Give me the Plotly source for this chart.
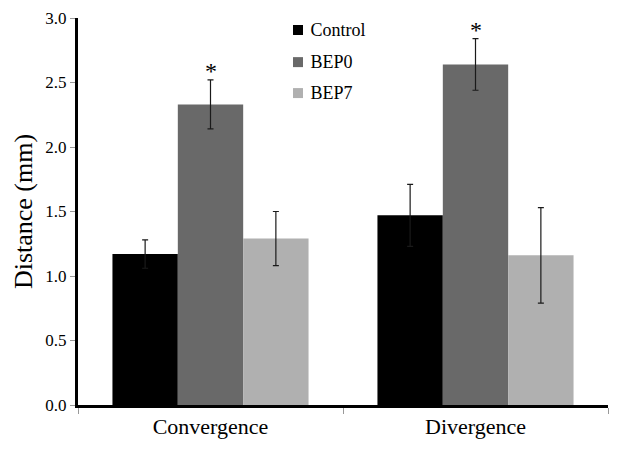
import plotly.graph_objects as go

categories = ["Convergence", "Divergence"]
series_names = ["Control", "BEP0", "BEP7"]
control = [1.17, 1.47]
control_err = [0.11, 0.24]
bep0 = [2.33, 2.64]
bep0_err = [0.19, 0.20]
bep7 = [1.29, 1.16]
bep7_err = [0.21, 0.37]
colors = ["#000000", "#696969", "#b0b0b0"]

FONT = "Liberation Serif"
fig = go.Figure()
for name, vals, errs, col in zip(series_names, [control, bep0, bep7],
                                 [control_err, bep0_err, bep7_err], colors):
    fig.add_trace(go.Bar(
        name=name, x=categories, y=vals, showlegend=False,
        marker=dict(color=col, line=dict(width=0)),
        error_y=dict(type="data", array=errs, visible=True, color="#1a1a1a",
                     thickness=1.2, width=3),
    ))

# empty helper trace so the legend-label axis is drawn
fig.add_trace(go.Scatter(x=[], y=[], yaxis="y2", showlegend=False, hoverinfo="skip"))

for c, v, e in zip(categories, bep0, bep0_err):
    fig.add_annotation(x=c, y=v + e, text="*", showarrow=False, yanchor="bottom",
                       yshift=-6, font=dict(family=FONT, size=24, color="black"))

# legend: paper-anchored swatches, labels as tick labels of a free axis
leg_x0, leg_x1 = 0.4057, 0.4245
leg_rows = [0.969, 0.886, 0.806]
half = 0.0129
for col, ry in zip(colors, leg_rows):
    fig.add_shape(type="rect", xref="paper", yref="paper", x0=leg_x0, x1=leg_x1,
                  y0=ry - half, y1=ry + half, fillcolor=col, line=dict(width=0))

fig.update_layout(
    width=624, height=455, barmode="group", bargap=0.26, bargroupgap=0,
    plot_bgcolor="white", paper_bgcolor="white",
    margin=dict(l=78, r=16, t=18, b=50, autoexpand=False),
    font=dict(family=FONT, color="black"),
    showlegend=False,
    xaxis=dict(showline=True, linecolor="black", linewidth=3, automargin=False,
               tickson="boundaries", ticks="outside", ticklen=6, tickcolor="#999",
               tickfont=dict(family=FONT, size=22)),
    yaxis=dict(range=[0, 3.0], dtick=0.5, tickformat=".1f", showline=True,
               automargin=False,
               linecolor="black", linewidth=3, showgrid=False, zeroline=False,
               ticks="outside", ticklen=5, tickcolor="#999",
               tickfont=dict(family=FONT, size=17),
               title=dict(text="Distance (mm)", font=dict(family=FONT, size=26),
                          standoff=6)),
    yaxis2=dict(overlaying="y", anchor="free", position=0.437, side="right",
                range=[0, 1], tickmode="array", tickvals=leg_rows,
                ticktext=series_names, showgrid=False, zeroline=False,
                showline=False, ticks="", automargin=False, fixedrange=True,
                tickfont=dict(family=FONT, size=18, color="black")),
)

fig.write_html("out.html", config={"displayModeBar": False},
               post_script="document.body.style.margin='0px';")
